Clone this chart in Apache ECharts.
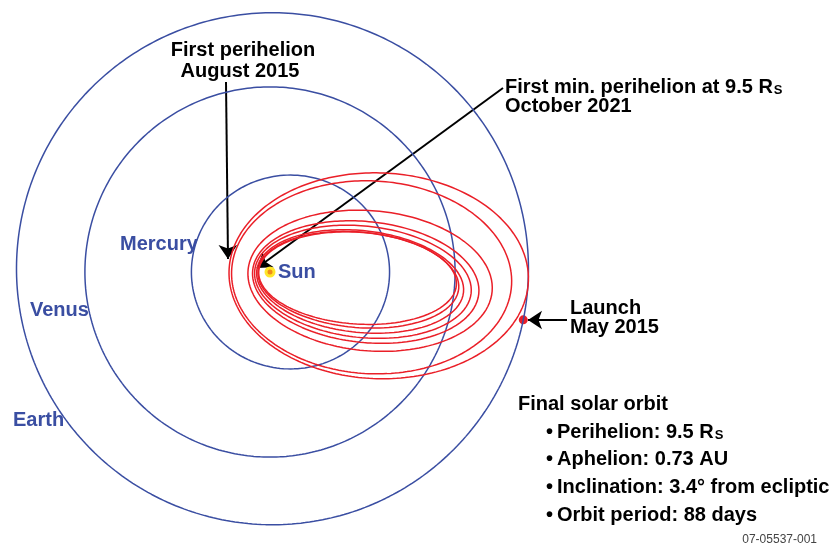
<!DOCTYPE html>
<html>
<head>
<meta charset="utf-8">
<script src="https://cdn.jsdelivr.net/npm/echarts@6/dist/echarts.min.js"></script>
<style>
  html, body { margin: 0; padding: 0; background: #fff; }
  #main { width: 831px; height: 551px; }
</style>
</head>
<body>
<div id="main"></div>
<script>
// planet orbits (AU), Sun at the origin
var planetNames = ['Mercury', 'Venus', 'Earth'];
var planetPerihelion = [0.307, 0.723, 0.984];
var planetAphelion = [0.467, 0.723, 1.016];
var planetTilt = [0, 0, 53];

// probe orbits (AU / degrees)
var orbitPerihelion = [0.160, 0.150, 0.086, 0.068, 0.060, 0.052, 0.047, 0.044];
var orbitAphelion = [1.010, 0.945, 0.871, 0.820, 0.790, 0.760, 0.740, 0.730];
var orbitTilt = [-2, -3, -5, -6, -6, -6, -5, -4];

var launchAngle = -10.7;

var finalOrbitTitle = 'Final solar orbit';
var finalOrbitFacts = ['Perihelion: 9.5 R{s|S}', 'Aphelion: 0.73 AU', 'Inclination: 3.4\u00b0 from ecliptic', 'Orbit period: 88 days'];

var BLUE = '#3a4ea2';
var RED = '#ea1f28';
var FONT = '"Liberation Sans", Arial, sans-serif';

// axes span the whole canvas: 256 px per AU, Sun at pixel (270, 272)
var PX = 256;
var SUN_X = 270, SUN_Y = 272;

function orbitRadius(q, Q, tilt, deg) {
    var e = (Q - q) / (Q + q), p = 2 * q * Q / (q + Q);
    var peri = (180 + tilt) * Math.PI / 180;
    return p / (1 + e * Math.cos(deg * Math.PI / 180 - peri));
}

function orbitPoints(q, Q, tilt) {
    var pts = [];
    for (var d = 0; d <= 360; d += 1) {
        var r = orbitRadius(q, Q, tilt, d);
        var t = d * Math.PI / 180;
        pts.push([r * Math.cos(t), r * Math.sin(t)]);
    }
    return pts;
}

// pixel -> data, only used to place annotation arrows
function px(x, y) {
    return [(x - SUN_X) / PX, (SUN_Y - y) / PX];
}

var series = [];

planetNames.forEach(function (name, i) {
    series.push({
        name: name,
        type: 'line',
        data: orbitPoints(planetPerihelion[i], planetAphelion[i], planetTilt[i]),
        showSymbol: false,
        lineStyle: { color: BLUE, width: 1.5 },
        silent: true
    });
});

orbitPerihelion.forEach(function (q, i) {
    series.push({
        type: 'line',
        data: orbitPoints(q, orbitAphelion[i], orbitTilt[i]),
        showSymbol: false,
        lineStyle: { color: RED, width: 1.5 },
        silent: true
    });
});

// Sun
series.push({
    type: 'scatter',
    data: [[0, 0]],
    symbolSize: 11,
    itemStyle: { color: '#ffe629', opacity: 1 },
    silent: true
});
series.push({
    type: 'scatter',
    data: [[0, 0]],
    symbolSize: 5,
    itemStyle: { color: '#f08c1a', opacity: 1 },
    silent: true
});

// launch point on Earth's orbit
var rL = orbitRadius(planetPerihelion[2], planetAphelion[2], planetTilt[2], launchAngle);
var launchPoint = [rL * Math.cos(launchAngle * Math.PI / 180), rL * Math.sin(launchAngle * Math.PI / 180)];
series.push({
    type: 'scatter',
    data: [launchPoint],
    symbolSize: 9,
    itemStyle: { color: RED, opacity: 1 },
    silent: true
});

// annotation arrows
series.push({
    type: 'lines',
    coordinateSystem: 'cartesian2d',
    symbol: ['none', 'arrow'],
    symbolSize: [11, 14],
    lineStyle: { color: '#000', width: 2, opacity: 1 },
    silent: true,
    data: [
        { coords: [px(226, 82), px(228, 259)] },
        { coords: [px(503, 88), px(257, 268)] },
        { coords: [px(567, 320), px(528, 320)] }
    ]
});

function label(text, x, y, opts) {
    opts = opts || {};
    return {
        type: 'text',
        x: x,
        y: y,
        silent: true,
        style: {
            text: text,
            font: (opts.weight || 'bold') + ' ' + (opts.size || 20) + 'px ' + FONT,
            fill: opts.color || '#000',
            textAlign: opts.align || 'left',
            textVerticalAlign: 'middle',
            rich: {
                s: { fontSize: 13, fontWeight: 'bold', fontFamily: FONT, fill: opts.color || '#000', verticalAlign: 'bottom', padding: [0, 0, 0, 1] }
            }
        }
    };
}

var graphics = [
    label('First perihelion', 243, 50, { align: 'center' }),
    label('August 2015', 240, 71, { align: 'center' }),
    label('First min. perihelion at 9.5 R{s|S}', 505, 87),
    label('October 2021', 505, 106),
    label('Launch', 570, 308),
    label('May 2015', 570, 327),
    label('Mercury', 120, 244, { color: BLUE }),
    label('Venus', 30, 310, { color: BLUE }),
    label('Earth', 13, 420, { color: BLUE }),
    label('Sun', 278, 272, { color: BLUE }),
    label(finalOrbitTitle, 518, 404)
];
finalOrbitFacts.forEach(function (t, i) {
    graphics.push(label('\u2022', 546, 432 + i * 27.7));
    graphics.push(label(t, 557, 432 + i * 27.7));
});
graphics.push(label('07-05537-001', 817, 540, { weight: 'normal', size: 12, color: '#444', align: 'right' }));

var myChart = echarts.init(document.getElementById('main'));
var option = {
    animation: false,
    backgroundColor: '#fff',
    grid: { left: 0, right: 0, top: 0, bottom: 0, containLabel: false },
    xAxis: { type: 'value', min: -SUN_X / PX, max: (831 - SUN_X) / PX, show: false },
    yAxis: { type: 'value', min: -(551 - SUN_Y) / PX, max: SUN_Y / PX, show: false },
    graphic: graphics,
    series: series
};
myChart.setOption(option);
</script>
</body>
</html>
